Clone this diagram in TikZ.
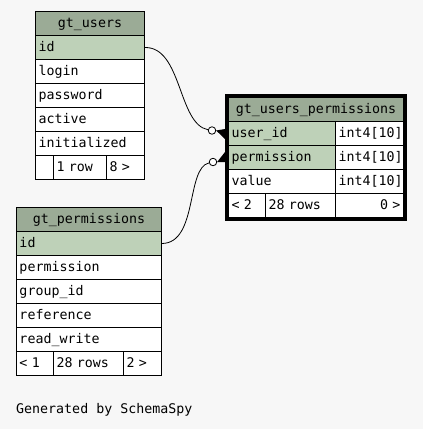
\documentclass[tikz,border=0pt]{standalone}
\usepackage{fontspec}
\setmonofont{DejaVu Sans Mono}
\definecolor{bgcol}{HTML}{F7F7F7}
\definecolor{hdrcol}{HTML}{9BAB96}
\definecolor{keycol}{HTML}{BED1B8}
\tikzset{
  cell/.style={draw, line width=1pt, fill=white, anchor=north west,
    minimum height=24pt, inner xsep=3pt, inner ysep=0pt,
    text height=10pt, text depth=3pt,
    font=\ttfamily\fontsize{13.3}{15}\selectfont},
  hdr/.style={cell, fill=hdrcol, align=center},
  key/.style={cell, fill=keycol, align=left},
  fld/.style={cell, align=left},
  fldr/.style={cell, align=right},
  conn/.style={line width=0.8pt},
  optdot/.style={circle, draw, line width=0.8pt, fill=white, inner sep=0pt, minimum size=7.5pt},
}
\begin{document}
\begin{tikzpicture}[x=1pt,y=-1pt]
\fill[bgcol] (0,0) rectangle (423,429);

% gt_users
\node[hdr, text width=103pt] (u-head) at (35,11) {gt\_users};
\node[key, text width=103pt] (u-id) at (35,35) {id};
\foreach \n [count=\i] in {login,password,active,initialized}
  \node[fld, text width=103pt] (u-\i) at (35,35+24*\i) {\n};
\node[fld, text width=12pt] (u-prev) at (35,155) {};
\node[fld, text width=47pt] (u-rows) at (53,155) {1 row};
\node[fld, text width=32pt] (u-next) at (106,155) {8 >};

% gt_permissions
\node[hdr, text width=139pt] (p-head) at (16,207) {gt\_permissions};
\node[key, text width=139pt] (p-id) at (16,231) {id};
\foreach \n [count=\i] in {permission,group\_id,reference,read\_write}
  \node[fld, text width=139pt] (p-\i) at (16,231+24*\i) {\n};
\node[fld, text width=31pt] (p-prev) at (16,351) {< 1};
\node[fld, text width=64pt] (p-rows) at (53,351) {28 rows};
\node[fld, text width=32pt] (p-next) at (123,351) {2 >};

% gt_users_permissions
\node[hdr, text width=169pt] (up-head) at (228,97) {gt\_users\_permissions};
\node[key, text width=101pt] (up-uid) at (228,121) {user\_id};
\node[fld, text width=62pt] (up-uidt) at (335,121) {int4[10]};
\node[key, text width=101pt] (up-perm) at (228,145) {permission};
\node[fld, text width=62pt] (up-permt) at (335,145) {int4[10]};
\node[fld, text width=101pt] (up-val) at (228,169) {value};
\node[fld, text width=62pt] (up-valt) at (335,169) {int4[10]};
\node[fld, text width=31pt] (up-prev) at (228,193) {< 2};
\node[fld, text width=64pt] (up-rows) at (265,193) {28 rows};
\node[fldr, text width=62pt] (up-next) at (335,193) {0 >};

% relationships
\node[optdot] (o1) at (212,130.5) {};
\node[optdot] (o2) at (213,162) {};
\coordinate (c1) at (225,134);
\coordinate (c2) at (225,157);
\draw[conn] (u-id.east) .. controls (182,47) and (178,124) .. (o1);
\draw[conn] (p-id.east) .. controls (198,243) and (186,168) .. (o2);
\fill (o1.east) -- ([yshift=5pt]c1) -- ([yshift=-5pt]c1) -- cycle;
\fill (o2.east) -- ([yshift=5pt]c2) -- ([yshift=-5pt]c2) -- cycle;

\draw[line width=3pt] ([xshift=-1.5pt,yshift=1.5pt]up-head.north west)
  rectangle ([xshift=1.5pt,yshift=-1.5pt]up-next.south east);

\node[anchor=base west, inner sep=0pt, font=\ttfamily\fontsize{13.3}{15}\selectfont]
  (gen) at (16,413) {Generated by SchemaSpy};
\end{tikzpicture}
\end{document}
